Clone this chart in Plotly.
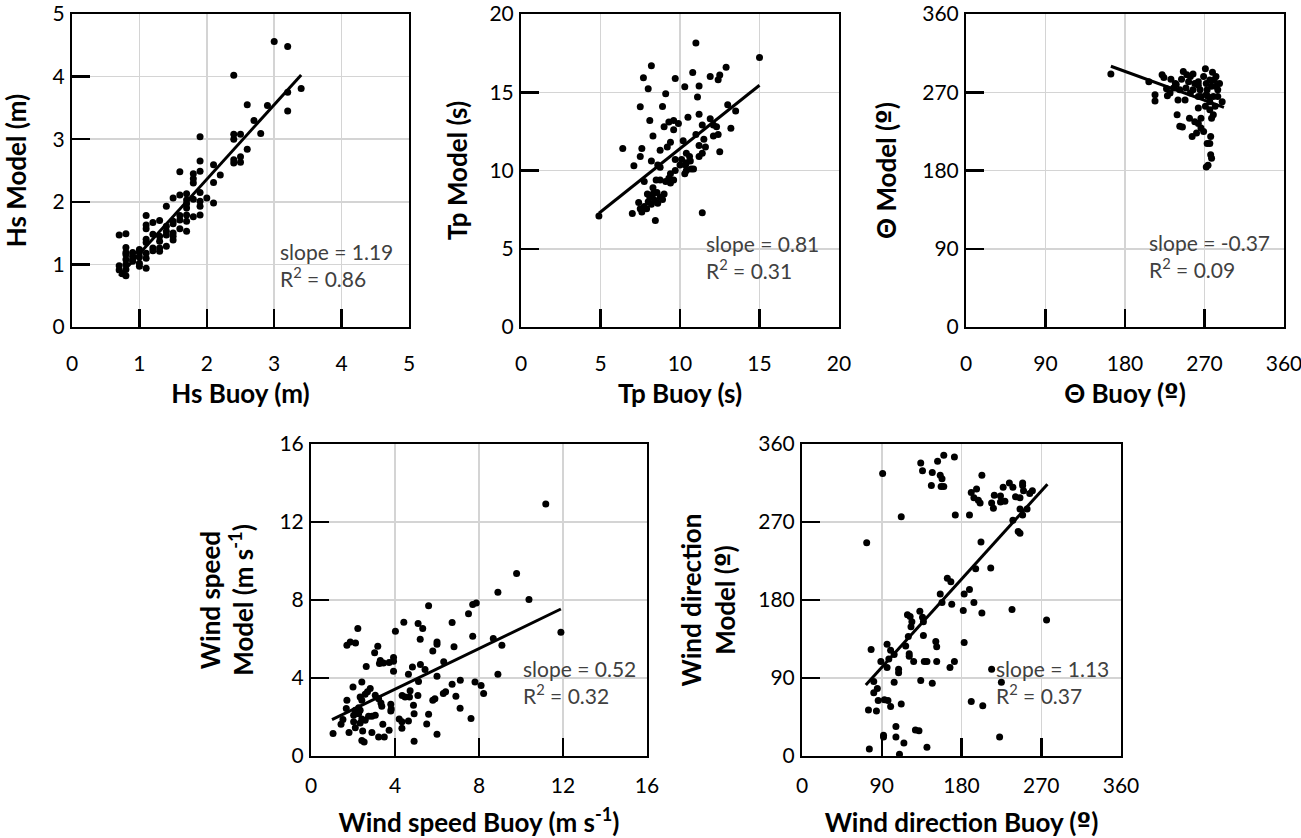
import plotly.graph_objects as go

W, H = 1301, 838
FAMILY = "Lato, Open Sans, sans-serif"
INK = "#000000"
NOTE = "#404040"
GRID = "#d4d4d4"
DEG = '<span style="font-family:DejaVu Sans">º</span>'

# ---- Hs (m) ----
hs_buoy = [3.0, 3.2, 2.4, 3.4, 3.2, 3.2, 2.6, 2.9, 2.7, 2.8, 1.9, 2.4, 2.5, 2.4, 2.6,
           2.5, 2.4, 2.4, 2.5, 1.9, 2.1, 2.2, 1.9, 2.1, 1.6, 1.8, 1.8, 1.8, 1.9, 1.7,
           1.6, 1.5, 2.0, 1.8, 1.7, 1.9, 2.1, 1.7, 1.9, 1.4, 1.7, 1.9, 1.7, 1.6, 1.8,
           1.1, 1.7, 1.6, 1.5, 1.5, 1.2, 1.1, 1.1, 1.3, 1.6, 1.7, 1.4, 1.4, 1.5, 1.2,
           1.3, 1.5, 1.4, 1.1, 1.5, 1.3, 1.1, 1.4, 1.2, 1.3, 1.2, 1.3, 1.0, 0.9, 1.0,
           1.1, 0.8, 0.9, 1.0, 1.1, 0.8, 0.9, 1.0, 0.8, 1.0, 0.7, 0.8, 0.7, 1.1, 0.8,
           0.75, 0.7, 0.8, 0.8, 0.8, 0.9]
hs_model = [4.56, 4.48, 4.02, 3.81, 3.75, 3.45, 3.55, 3.54, 3.30, 3.09, 3.04, 3.08, 3.08, 3.00, 2.84,
            2.72, 2.67, 2.62, 2.63, 2.65, 2.59, 2.43, 2.49, 2.31, 2.48, 2.45, 2.37, 2.30, 2.15, 2.13,
            2.11, 2.06, 2.06, 2.04, 2.03, 2.01, 1.98, 1.97, 1.93, 1.93, 1.90, 1.79, 1.79, 1.78, 1.76,
            1.78, 1.69, 1.71, 1.69, 1.65, 1.67, 1.63, 1.57, 1.70, 1.57, 1.53, 1.61, 1.53, 1.50, 1.48,
            1.45, 1.45, 1.47, 1.40, 1.39, 1.37, 1.35, 1.29, 1.26, 1.26, 1.22, 1.21, 1.24, 1.19, 1.19,
            1.18, 1.16, 1.13, 1.12, 1.10, 1.08, 1.05, 1.02, 1.00, 0.97, 0.98, 0.92, 0.91, 0.94, 0.82,
            0.85, 1.47, 1.49, 1.27, 1.19, 1.08]

# ---- Tp (s) ----
tp_buoy = [4.9, 11.0, 15.0, 8.2, 7.7, 8.0, 9.7, 10.8, 11.9, 12.5, 12.9, 12.4, 10.3, 11.2, 9.1,
           11.1, 7.5, 8.9, 13.0, 13.5, 8.1, 10.5, 11.2, 9.3, 9.6, 9.9, 11.9, 9.0, 9.6, 11.4,
           12.1, 12.3, 13.2, 7.6, 6.4, 8.3, 11.0, 12.1, 12.4, 11.5, 10.2, 8.75, 9.2, 9.4, 12.5,
           11.2, 11.6, 11.4, 7.5, 11.2, 8.2, 10.4, 10.6, 10.1, 9.7, 10.4, 7.1, 8.6, 8.75, 10.7,
           10.85, 10.4, 9.7, 9.4, 10.3, 9.3, 9.6, 9.1, 7.75, 8.5, 8.75, 9.4, 8.3, 8.55, 7.95,
           8.3, 9.0, 8.1, 8.75, 8.9, 8.4, 8.0, 7.4, 8.6, 7.75, 8.2, 7.9, 7.5, 7.6, 7.0,
           11.4, 8.45, 10.35, 10.0, 10.65]
tp_model = [7.09, 18.14, 17.22, 16.69, 15.92, 15.22, 15.88, 16.26, 16.0, 16.1, 16.6, 15.8, 15.35, 15.4, 14.9,
            14.7, 14.07, 14.09, 14.2, 13.8, 13.2, 13.4, 13.6, 13.1, 13.2, 13.0, 13.3, 12.8, 12.6, 12.9,
            12.9, 12.8, 12.7, 11.4, 11.4, 12.2, 12.3, 12.2, 12.3, 12.0, 11.9, 11.3, 11.5, 11.8, 11.2,
            11.6, 11.5, 11.1, 10.9, 10.9, 10.6, 11.1, 10.9, 10.7, 10.7, 10.5, 10.3, 10.35, 10.2, 10.1,
            10.1, 10.0, 10.0, 9.8, 9.8, 9.5, 9.4, 9.3, 9.3, 9.4, 9.4, 9.2, 8.9, 8.6, 8.5,
            8.5, 8.5, 8.3, 8.3, 8.15, 8.1, 8.0, 7.95, 7.9, 7.7, 7.85, 7.55, 7.55, 7.35, 7.25,
            7.3, 6.8, 10.35, 10.35, 10.6]

# ---- Wave direction (deg) ----
th_buoy = [164, 207, 214, 214, 222, 224, 227, 228, 232, 239, 240, 242, 245, 244, 246,
           249, 252, 253, 256, 257, 257, 259, 261, 263, 266, 266, 263, 263, 269, 271,
           272, 273, 274, 276, 277, 276, 273, 277, 278, 274, 272, 279, 283, 285, 287,
           290, 280, 280, 282, 278, 283, 263, 254, 248, 237, 235, 231, 269, 266, 276,
           285, 281, 259, 254, 265, 271, 272, 263, 278, 276, 250, 238, 242]
th_model = [291, 282, 260, 267, 290, 287, 274, 266, 285, 244, 261, 231, 230, 285, 294,
            275, 282, 240, 219, 291, 273, 236, 223, 234, 229, 240, 252, 282, 225, 297,
            280, 273, 265, 250, 219, 211, 211, 198, 194, 186, 184, 293, 288, 273, 280,
            259, 244, 265, 254, 240, 277, 265, 269, 261, 280, 275, 269, 288, 265, 259,
            265, 284, 280, 288, 273, 254, 267, 278, 277, 284, 290, 279, 273]

# ---- Wind speed (m s-1) ----
ws_buoy = [11.18, 9.79, 8.9, 10.38, 11.9, 7.87, 7.7, 7.5, 7.7, 8.68, 9.09, 8.9, 7.81, 8.1, 8.22,
           7.62, 7.11, 7.1, 6.9, 6.72, 6.81, 6.72, 6.32, 6.41, 6.3, 6.0, 6.0, 5.8, 6.0, 5.9,
           5.8, 6.0, 5.6, 5.1, 5.32, 5.2, 4.42, 4.02, 5.43, 5.21, 4.83, 4.64, 5.12, 4.72, 5.09,
           4.34, 4.48, 4.69, 4.88, 4.91, 5.6, 5.51, 4.91, 4.64, 4.2, 4.33, 4.33, 3.93, 3.93, 3.93,
           3.72, 3.45, 3.3, 3.18, 3.03, 2.63, 3.26, 3.8, 3.82, 3.8, 3.33, 3.37, 3.22, 3.06, 2.82,
           2.69, 2.42, 2.58, 2.34, 2.42, 2.27, 2.34, 2.11, 2.03, 2.27, 2.42, 2.58, 2.34, 2.03, 2.11,
           1.68, 1.71, 2.0, 1.52, 1.43, 1.81, 1.05, 2.46, 2.9, 2.42, 2.53, 3.22, 3.49, 3.72, 3.42,
           2.9, 3.06, 1.71, 1.87, 2.12, 2.23, 2.74]
ws_model = [12.92, 9.36, 8.4, 8.03, 6.35, 7.85, 7.77, 7.29, 6.14, 6.02, 5.68, 4.19, 3.8, 3.61, 3.2,
            1.92, 3.88, 2.45, 3.06, 3.68, 5.6, 6.84, 4.83, 3.29, 3.2, 5.85, 5.73, 5.39, 4.09, 2.94,
            2.86, 1.11, 7.7, 6.79, 6.54, 5.99, 6.86, 6.4, 4.43, 4.69, 4.57, 4.19, 3.82, 3.34, 3.1,
            3.1, 3.03, 3.03, 2.6, 2.17, 2.14, 1.64, 0.75, 1.8, 1.9, 1.42, 1.75, 5.05, 4.86, 4.35,
            4.79, 4.77, 4.9, 5.63, 5.3, 4.59, 4.74, 2.65, 2.41, 2.31, 2.72, 2.55, 2.94, 3.11, 3.46,
            3.29, 3.8, 3.17, 3.03, 2.86, 2.48, 2.34, 2.34, 2.09, 2.17, 1.9, 1.83, 1.69, 1.75, 1.45,
            2.43, 2.86, 3.54, 1.87, 1.63, 1.2, 1.15, 1.28, 1.21, 0.79, 0.72, 0.98, 0.98, 1.32, 1.63,
            2.04, 2.09, 5.68, 5.85, 5.8, 6.54, 2.04]

# ---- Wind direction (deg) ----
wd_buoy = [91, 134, 136, 147, 153, 160, 172, 156, 158, 146, 157, 160, 203, 191, 197,
           194, 199, 201, 214, 217, 216, 224, 227, 224, 229, 234, 238, 241, 246, 249,
           249, 250, 257, 260, 246, 254, 249, 238, 244, 246, 112, 173, 189, 73, 202,
           213, 196, 164, 168, 189, 183, 156, 158, 169, 194, 182, 203, 237, 276, 133,
           119, 122, 136, 137, 124, 123, 120, 137, 151, 152, 183, 117, 121, 121, 126,
           138, 141, 152, 167, 172, 100, 104, 98, 89, 96, 109, 109, 96, 78, 214,
           104, 134, 147, 225, 81, 81, 85, 86, 93, 97, 100, 84, 75, 112, 191,
           204, 106, 106, 92, 115, 128, 132, 141, 76, 110, 223, 92]
wd_model = [326, 338, 329, 327, 340, 347, 345, 324, 320, 312, 311, 311, 324, 304, 308,
            298, 295, 292, 292, 301, 286, 300, 310, 293, 294, 315, 310, 299, 298, 315,
            312, 306, 303, 306, 285, 285, 278, 272, 259, 257, 276, 278, 278, 246, 247,
            217, 216, 205, 201, 192, 187, 187, 177, 175, 177, 168, 165, 169, 157, 167,
            163, 161, 160, 155, 155, 149, 138, 139, 132, 126, 131, 127, 118, 115, 109,
            109, 109, 109, 102, 109, 122, 117, 112, 109, 102, 100, 96, 129, 123, 100,
            85, 87, 84, 85, 86, 73, 78, 64, 65, 64, 57, 52, 53, 60, 63,
            58, 34, 22, 22, 15, 30, 29, 10, 8, 2, 22, 24]

# linear fits shown on the chart
fit_slope = [1.19, 0.81, -0.37, 0.52, 1.13]
fit_intercept = [-0.02, 3.3, 360.6, 1.35, 0.6]
fit_r2 = [0.86, 0.31, 0.09, 0.32, 0.37]
fit_xmin = [0.7, 4.9, 164, 1.0, 72]
fit_xmax = [3.4, 15.0, 292, 11.9, 277]

axis_max = [5, 20, 360, 16, 360]
axis_dtick = [1, 5, 90, 4, 90]
x_titles = ["Hs Buoy (m)", "Tp Buoy (s)", f"Θ Buoy ({DEG})",
            "Wind speed Buoy (m s<sup>-1</sup>)", f"Wind direction Buoy ({DEG})"]
y_titles = ["Hs Model (m)", "Tp Model (s)", f"Θ Model ({DEG})",
            "Wind speed<br>Model (m s<sup>-1</sup>)", f"Wind direction<br>Model ({DEG})"]
xs = [hs_buoy, tp_buoy, th_buoy, ws_buoy, wd_buoy]
ys = [hs_model, tp_model, th_model, ws_model, wd_model]

# panel boxes in pixels (left, right, top, bottom)
boxes = [(72, 409, 14, 327), (521, 839, 14, 327), (966, 1284, 14, 327),
         (311, 647, 444, 756), (802, 1121, 444, 756)]
x_tick_standoff = [17, 17, 17, 10, 10]
x_title_standoff = [11, 11, 11, 18, 18]
y_title_standoff = [21, 14, 18, 18, 15]
note_pos = [(0.611, 0.197), (0.575, 0.223), (0.568, 0.226), (0.624, 0.236), (0.602, 0.236)]

fig = go.Figure()
layout = {}
for i in range(5):
    n = "" if i == 0 else str(i + 1)
    xa, ya = "x" + n, "y" + n
    fig.add_trace(go.Scatter(x=xs[i], y=ys[i], mode="markers", xaxis=xa, yaxis=ya,
                             marker=dict(color=INK, size=7), showlegend=False))
    lx = [fit_xmin[i], fit_xmax[i]]
    ly = [fit_slope[i] * v + fit_intercept[i] for v in lx]
    fig.add_trace(go.Scatter(x=lx, y=ly, mode="lines", xaxis=xa, yaxis=ya,
                             line=dict(color=INK, width=3), showlegend=False))

    l, r, t, b = boxes[i]
    common = dict(range=[0, axis_max[i]], dtick=axis_dtick[i], tick0=0, automargin=False,
                  showgrid=True, gridcolor=GRID, gridwidth=1.5, zeroline=False,
                  showline=True, mirror=True, linecolor=INK, linewidth=2,
                  ticks="inside", ticklen=18, tickwidth=2.5, tickcolor=INK,
                  ticklabeloverflow="allow",
                  tickfont=dict(family=FAMILY, size=21, color=INK), fixedrange=True)
    layout["xaxis" + n] = dict(common, domain=[l / W, r / W], anchor=ya,
                               ticklabelstandoff=x_tick_standoff[i],
                               title=dict(text="<b>" + x_titles[i] + "</b>",
                                          standoff=x_title_standoff[i],
                                          font=dict(family=FAMILY, size=26, color=INK)))
    layout["yaxis" + n] = dict(common, domain=[1 - b / H, 1 - t / H], anchor=xa,
                               ticklabelstandoff=1,
                               title=dict(text="<b>" + y_titles[i] + "</b>",
                                          standoff=y_title_standoff[i],
                                          font=dict(family=FAMILY, size=26, color=INK)))
    nx, ny = note_pos[i]
    fig.add_annotation(xref=xa + " domain", yref=ya + " domain", x=nx, y=ny,
                       xanchor="left", yanchor="middle", align="left", showarrow=False,
                       text=f"slope = {fit_slope[i]:.2f}<br>R<sup>2</sup> = {fit_r2[i]:.2f}",
                       font=dict(family=FAMILY, size=21, color=NOTE))

fig.update_layout(width=W, height=H, margin=dict(l=0, r=0, t=0, b=0),
                  paper_bgcolor="white", plot_bgcolor="white", hovermode=False, **layout)
# the page's default body margin would shift the figure by 8 px
fig.write_html("out.html", config={"displayModeBar": False, "staticPlot": True},
               post_script="document.body.style.margin = '0px';")
